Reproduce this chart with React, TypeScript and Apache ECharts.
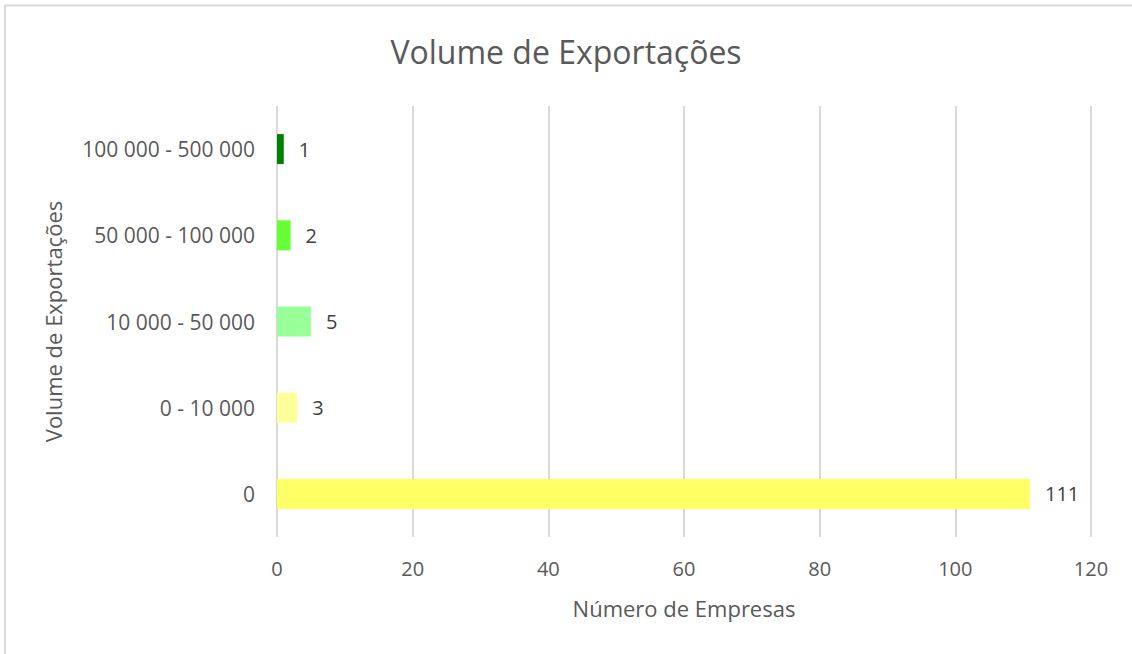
import React, { useEffect, useRef } from "react";
import * as echarts from "echarts";

const categories = ["0", "0 - 10 000", "10 000 - 50 000", "50 000 - 100 000", "100 000 - 500 000"];
const values = [111, 3, 5, 2, 1];
const barColors = ["#FFFF66", "#FFFF99", "#99FF99", "#66FF33", "#008000"];
const xTicks = { min: 0, max: 120, interval: 20 };

export default function App() {
  const ref = useRef<HTMLDivElement>(null);
  useEffect(() => {
    document.body.style.margin = "0";
    const chart = echarts.init(ref.current!, null, { renderer: "svg" });
    const font = "'Open Sans', 'Noto Sans', sans-serif";
    chart.setOption({
      animation: false,
      backgroundColor: "#ffffff",
      title: {
        text: "Volume de Exportações",
        left: "center",
        top: 30,
        textStyle: { fontFamily: font, fontSize: 32, fontWeight: "normal", color: "#595959" },
      },
      grid: { left: 277, right: 41, top: 106, bottom: 117, containLabel: false },
      xAxis: {
        type: "value",
        min: xTicks.min,
        max: xTicks.max,
        interval: xTicks.interval,
        name: "Número de Empresas",
        nameLocation: "middle",
        nameGap: 60,
        nameTextStyle: { fontFamily: font, fontSize: 22, color: "#595959" },
        axisLine: { show: false },
        axisTick: { show: false },
        axisLabel: { fontFamily: font, fontSize: 20, color: "#595959", margin: 21 },
        splitLine: { show: true, lineStyle: { color: "#d9d9d9", width: 2 } },
      },
      yAxis: {
        type: "category",
        data: categories,
        name: "Volume de Exportações",
        nameLocation: "middle",
        nameGap: 213,
        nameRotate: 90,
        nameTextStyle: { fontFamily: font, fontSize: 22, color: "#595959" },
        axisLine: { show: false },
        axisTick: { show: false },
        axisLabel: { fontFamily: font, fontSize: 21, color: "#595959", margin: 22 },
        splitLine: { show: false },
      },
      series: [
        {
          type: "bar",
          data: values.map((v, i) => ({ value: v, itemStyle: { color: barColors[i] } })),
          barWidth: 30,
          label: {
            show: true,
            position: "right",
            distance: 15,
            fontFamily: font,
            fontSize: 20,
            color: "#404040",
          },
        },
      ],
      graphic: [
        { type: "line", shape: { x1: 5, y1: 5.5, x2: 1132, y2: 5.5 }, style: { stroke: "#d9d9d9", lineWidth: 2 } },
        { type: "line", shape: { x1: 5, y1: 5, x2: 5, y2: 654 }, style: { stroke: "#d9d9d9", lineWidth: 2 } },
      ],
    });
    return () => chart.dispose();
  }, []);
  return <div ref={ref} style={{ width: 1132, height: 654 }} />;
}
